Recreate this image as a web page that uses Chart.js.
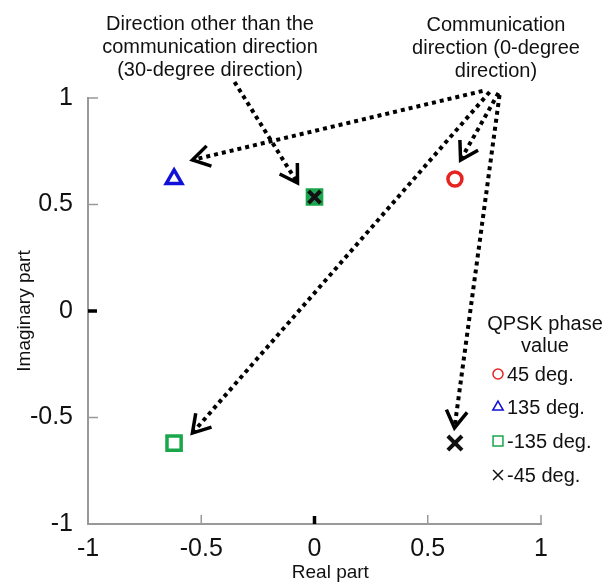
<!DOCTYPE html>
<html>
<head>
<meta charset="utf-8">
<script src="https://cdn.jsdelivr.net/npm/chart.js@4.4.1/dist/chart.umd.min.js"></script>
<style>
  body { margin: 0; background: #fff; }
  #wrap { width: 614px; height: 585px; }
</style>
</head>
<body>
<div id="wrap"><canvas id="myChart" width="614" height="585"></canvas></div>
<script>
// QPSK constellation points (real, imaginary)
const phase45Re = [0.62];
const phase45Im = [0.62];
const phase135Re = [-0.62];
const phase135Im = [0.62];
const phaseM135Re = [-0.62, 0];
const phaseM135Im = [-0.62, 0.535];
const phaseM45Re = [0.62, 0];
const phaseM45Im = [-0.62, 0.535];

const axisTicks = [-1, -0.5, 0, 0.5, 1];

const legendLabels = ['45 deg.', '135 deg.', '-135 deg.', '-45 deg.'];
const legendTitle = ['QPSK phase', 'value'];

const noteLeft = ['Direction other than the', 'communication direction', '(30-degree direction)'];
const noteRight = ['Communication', 'direction (0-degree', 'direction)'];

// arrows, in data units: start and end (tip)
const arrowFromRe = [0.742, 0.773, 0.812, 0.817, -0.353];
const arrowFromIm = [1.033, 1.028, 1.023, 1.014, 1.075];
const arrowToRe = [-0.539, -0.539, 0.645, 0.618, -0.075];
const arrowToIm = [0.709, -0.573, 0.709, -0.549, 0.601];

const FONT = "'Liberation Sans', Arial, sans-serif";

function punti(re, im) {
    return re.map(function(x, i) {
        return {x: x, y: im[i]};
    });
}

const arrowPlugin = {
    id: 'frecce',
    afterDatasetsDraw(chart) {
        const ctx = chart.ctx;
        const xs = chart.scales.x, ys = chart.scales.y;
        ctx.save();
        ctx.strokeStyle = '#000';
        for (let i = 0; i < arrowFromRe.length; i++) {
            const x0 = xs.getPixelForValue(arrowFromRe[i]);
            const y0 = ys.getPixelForValue(arrowFromIm[i]);
            const x1 = xs.getPixelForValue(arrowToRe[i]);
            const y1 = ys.getPixelForValue(arrowToIm[i]);
            ctx.lineWidth = 4;
            ctx.lineCap = 'butt';
            ctx.setLineDash([4, 4]);
            ctx.beginPath();
            ctx.moveTo(x0, y0);
            ctx.lineTo(x1, y1);
            ctx.stroke();
            // open arrow head
            const ang = Math.atan2(y1 - y0, x1 - x0);
            const len = 20, spread = 0.55;
            ctx.setLineDash([]);
            ctx.lineWidth = 3.5;
            ctx.lineJoin = 'miter';
            ctx.beginPath();
            ctx.moveTo(x1 - len * Math.cos(ang - spread), y1 - len * Math.sin(ang - spread));
            ctx.lineTo(x1, y1);
            ctx.lineTo(x1 - len * Math.cos(ang + spread), y1 - len * Math.sin(ang + spread));
            ctx.stroke();
        }
        ctx.restore();
    }
};

const decoPlugin = {
    id: 'deco',
    afterDraw(chart) {
        const ctx = chart.ctx;
        const xs = chart.scales.x, ys = chart.scales.y;
        const area = chart.chartArea;
        ctx.save();
        // inward ticks
        axisTicks.forEach(function(v) {
            const zero = v === 0;
            ctx.strokeStyle = zero ? '#000' : '#999';
            ctx.lineWidth = zero ? 3.5 : 1.5;
            const py = ys.getPixelForValue(v);
            ctx.beginPath();
            ctx.moveTo(area.left, py);
            ctx.lineTo(area.left + (zero ? 9 : 10), py);
            ctx.stroke();
            const px = xs.getPixelForValue(v);
            ctx.beginPath();
            ctx.moveTo(px, area.bottom);
            ctx.lineTo(px, area.bottom - (zero ? 8 : 9));
            ctx.stroke();
        });

        // notes
        ctx.fillStyle = '#111';
        ctx.textAlign = 'center';
        ctx.textBaseline = 'alphabetic';
        ctx.font = '20px ' + FONT;
        noteLeft.forEach(function(t, i) {
            ctx.fillText(t, 210, 30 + i * 23);
        });
        noteRight.forEach(function(t, i) {
            ctx.fillText(t, 496, 31 + i * 23);
        });

        // legend
        ctx.font = '20px ' + FONT;
        legendTitle.forEach(function(t, i) {
            ctx.fillText(t, 545, 330 + i * 22);
        });
        ctx.textAlign = 'left';
        const base = [381, 414, 448, 482];
        const legendDs = chart.data.datasets.slice(0, 4);
        legendDs.forEach(function(ds, i) {
            const style = {
                pointStyle: ds.pointStyle,
                radius: [5, 6, 7, 7][i],
                borderWidth: [2.5, 2.5, 2.5, 3][i],
                rotation: 0
            };
            ctx.strokeStyle = ds.borderColor;
            ctx.fillStyle = '#fff';
            Chart.helpers.drawPoint(ctx, style, 498, base[i] - 7);
            ctx.fillStyle = '#111';
            ctx.fillText(legendLabels[i], 507, base[i]);
        });
        ctx.restore();
    }
};

new Chart(document.getElementById('myChart'), {
    type: 'scatter',
    data: {
        datasets: [{
            label: legendLabels[0],
            data: punti(phase45Re, phase45Im),
            pointStyle: 'circle',
            pointRadius: 7,
            pointBorderWidth: 3.5,
            borderColor: '#e52421',
            backgroundColor: '#fff',
            order: 2
        }, {
            label: legendLabels[1],
            data: punti(phase135Re, phase135Im),
            pointStyle: 'triangle',
            pointRadius: 9,
            pointBorderWidth: 3.5,
            borderColor: '#1010d8',
            backgroundColor: '#fff',
            order: 2
        }, {
            label: legendLabels[2],
            data: punti(phaseM135Re, phaseM135Im),
            pointStyle: 'rect',
            pointRadius: [10, 10],
            pointBorderWidth: 3.5,
            borderColor: '#1aa64a',
            backgroundColor: ['#fff', '#2a9f68'],
            order: 2
        }, {
            label: legendLabels[3],
            data: punti(phaseM45Re, phaseM45Im),
            pointStyle: 'crossRot',
            pointRadius: [10, 8.5],
            pointBorderWidth: 4,
            borderColor: '#111',
            backgroundColor: '#111',
            order: 1
        }]
    },
    options: {
        responsive: false,
        animation: false,
        events: [],
        layout: {
            padding: {top: 98, right: 73, left: 0, bottom: 0}
        },
        plugins: {
            legend: {display: false},
            tooltip: {enabled: false}
        },
        scales: {
            x: {
                type: 'linear',
                min: -1,
                max: 1,
                afterFit: function(scale) { scale.height = 61; },
                afterBuildTicks: function(scale) {
                    scale.ticks = axisTicks.map(function(v) { return {value: v}; });
                },
                grid: {display: false, drawTicks: false},
                border: {display: true, color: '#999', width: 2},
                ticks: {
                    autoSkip: false,
                    maxRotation: 0,
                    padding: 10,
                    color: '#111',
                    font: {family: FONT, size: 25},
                    callback: function(v) { return String(v); }
                },
                title: {
                    display: true,
                    text: '      Real part',
                    color: '#111',
                    font: {family: FONT, size: 19},
                    padding: {top: 0, bottom: 1}
                }
            },
            y: {
                type: 'linear',
                min: -1,
                max: 1,
                afterFit: function(scale) { scale.width = 88; },
                afterBuildTicks: function(scale) {
                    scale.ticks = axisTicks.map(function(v) { return {value: v}; });
                },
                grid: {display: false, drawTicks: false},
                border: {display: true, color: '#999', width: 2},
                ticks: {
                    autoSkip: false,
                    padding: 15,
                    color: '#111',
                    font: {family: FONT, size: 25},
                    callback: function(v) { return String(v); }
                },
                title: {
                    display: true,
                    text: 'Imaginary part',
                    color: '#111',
                    font: {family: FONT, size: 19},
                    padding: {top: 13, bottom: 0}
                }
            }
        }
    },
    plugins: [arrowPlugin, decoPlugin]
});
</script>
</body>
</html>
